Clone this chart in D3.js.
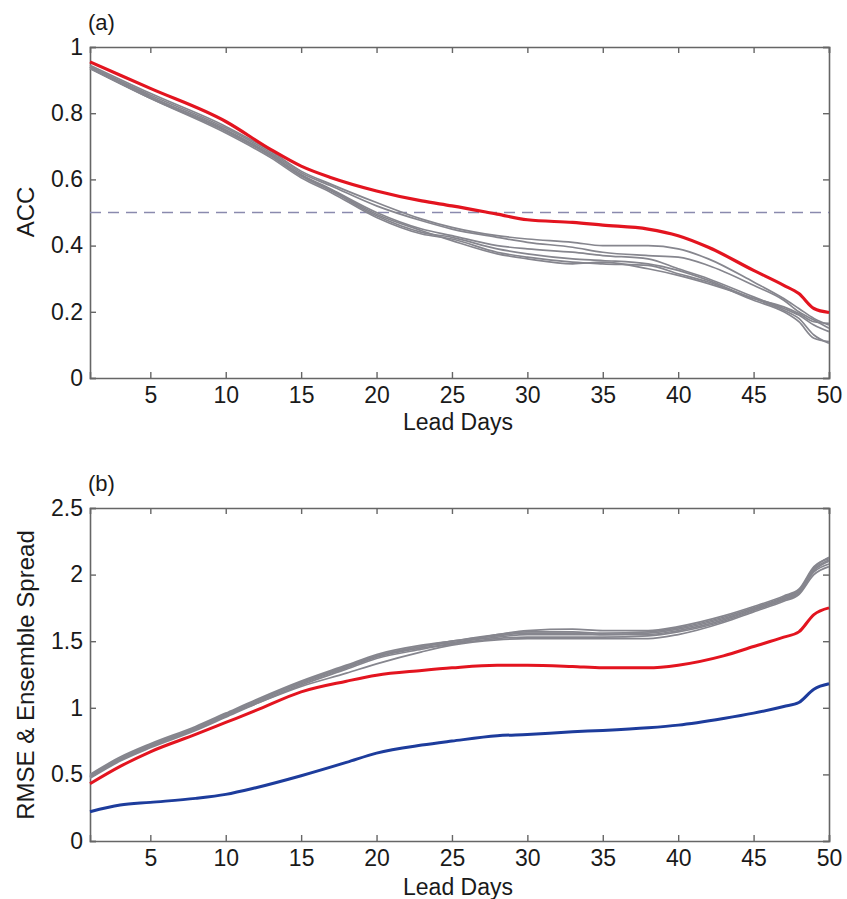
<!DOCTYPE html>
<html>
<head>
<meta charset="utf-8">
<script src="https://cdn.jsdelivr.net/npm/d3@7"></script>
<style>
  body { margin: 0; background: #fff; }
  svg { font-family: "Liberation Sans", Arial, sans-serif; }
</style>
</head>
<body>
<svg width="847" height="899"></svg>
<script>
// panel (a) ACC
var daysA = [1, 5, 10, 13, 15, 17, 20, 23, 25, 28, 30, 33, 35, 38, 40, 42, 45, 47, 48, 49, 50];
var accMean = [0.955, 0.875, 0.775, 0.69, 0.64, 0.605, 0.565, 0.535, 0.52, 0.495, 0.478, 0.47, 0.462, 0.45, 0.43, 0.395, 0.325, 0.28, 0.255, 0.21, 0.198];
var accMembers = [
    [0.945, 0.86, 0.76, 0.685, 0.625, 0.585, 0.53, 0.48, 0.455, 0.43, 0.42, 0.41, 0.40, 0.40, 0.39, 0.36, 0.29, 0.24, 0.21, 0.18, 0.16],
    [0.94, 0.855, 0.755, 0.68, 0.62, 0.58, 0.52, 0.475, 0.45, 0.425, 0.41, 0.395, 0.38, 0.37, 0.365, 0.34, 0.28, 0.235, 0.2, 0.175, 0.15],
    [0.94, 0.85, 0.75, 0.675, 0.615, 0.57, 0.50, 0.45, 0.43, 0.40, 0.39, 0.38, 0.37, 0.36, 0.33, 0.30, 0.245, 0.21, 0.19, 0.16, 0.14],
    [0.935, 0.845, 0.745, 0.67, 0.61, 0.565, 0.49, 0.44, 0.425, 0.39, 0.375, 0.36, 0.355, 0.345, 0.325, 0.295, 0.24, 0.215, 0.195, 0.17, 0.165],
    [0.935, 0.845, 0.74, 0.665, 0.605, 0.56, 0.485, 0.435, 0.42, 0.38, 0.365, 0.35, 0.345, 0.34, 0.315, 0.29, 0.235, 0.2, 0.17, 0.12, 0.11],
    [0.94, 0.85, 0.748, 0.672, 0.612, 0.568, 0.495, 0.445, 0.415, 0.375, 0.36, 0.345, 0.35, 0.33, 0.31, 0.285, 0.24, 0.205, 0.18, 0.13, 0.105]
];
var accRef = 0.5;

// panel (b) RMSE & spread
var daysB = [1, 3, 5, 8, 10, 12, 15, 18, 20, 23, 25, 28, 30, 33, 35, 38, 40, 43, 45, 47, 48, 49, 50];
var rmseMean = [0.43, 0.56, 0.67, 0.80, 0.89, 0.98, 1.12, 1.20, 1.245, 1.28, 1.30, 1.32, 1.32, 1.31, 1.30, 1.30, 1.32, 1.39, 1.46, 1.53, 1.57, 1.70, 1.75];
var spread = [0.22, 0.27, 0.29, 0.32, 0.35, 0.40, 0.49, 0.59, 0.66, 0.72, 0.75, 0.79, 0.80, 0.82, 0.83, 0.85, 0.87, 0.92, 0.96, 1.01, 1.04, 1.14, 1.18];
var rmseMembers = [
    [0.50, 0.63, 0.73, 0.86, 0.96, 1.06, 1.20, 1.32, 1.40, 1.47, 1.50, 1.55, 1.57, 1.57, 1.56, 1.57, 1.60, 1.68, 1.75, 1.83, 1.88, 2.05, 2.13],
    [0.49, 0.62, 0.72, 0.85, 0.95, 1.05, 1.19, 1.31, 1.39, 1.46, 1.49, 1.53, 1.55, 1.55, 1.55, 1.56, 1.59, 1.67, 1.74, 1.82, 1.87, 2.03, 2.10],
    [0.48, 0.61, 0.71, 0.84, 0.94, 1.04, 1.18, 1.30, 1.38, 1.45, 1.48, 1.52, 1.53, 1.53, 1.53, 1.54, 1.57, 1.65, 1.73, 1.81, 1.86, 2.02, 2.08],
    [0.47, 0.60, 0.70, 0.83, 0.93, 1.03, 1.17, 1.29, 1.37, 1.44, 1.48, 1.55, 1.58, 1.59, 1.58, 1.58, 1.61, 1.69, 1.76, 1.84, 1.89, 2.06, 2.12],
    [0.48, 0.61, 0.71, 0.84, 0.94, 1.03, 1.16, 1.26, 1.33, 1.42, 1.47, 1.51, 1.52, 1.52, 1.52, 1.52, 1.55, 1.64, 1.72, 1.80, 1.85, 2.00, 2.06],
    [0.49, 0.62, 0.72, 0.85, 0.95, 1.05, 1.19, 1.31, 1.39, 1.46, 1.50, 1.54, 1.56, 1.56, 1.55, 1.55, 1.58, 1.66, 1.74, 1.82, 1.87, 2.04, 2.11]
];

var xTicks = [5, 10, 15, 20, 25, 30, 35, 40, 45, 50];
var accTicks = [0, 0.2, 0.4, 0.6, 0.8, 1];
var rmseTicks = [0, 0.5, 1, 1.5, 2, 2.5];

var svg = d3.select('svg');
var left = 90, right = 829;
var axisColor = '#666';
var textColor = '#1a1a1a';

var x = d3.scaleLinear().domain([1, 50]).range([left, right]);

function panel(top, bottom, yDomain, yTicks, label, yTitle, yTitleY, xTitleY) {
    var y = d3.scaleLinear().domain(yDomain).range([bottom, top]);
    var g = svg.append('g');

    var bottomAxis = d3.axisBottom(x).tickValues(xTicks).tickSize(-6).tickPadding(9).tickFormat(d3.format('d'));
    var topAxis = d3.axisTop(x).tickValues(xTicks).tickSize(-6).tickFormat('');
    var leftAxis = d3.axisLeft(y).tickValues(yTicks).tickSize(-6).tickPadding(7).tickFormat(d => String(d));
    var rightAxis = d3.axisRight(y).tickValues(yTicks).tickSize(-6).tickFormat('');

    [
        [bottomAxis, 'translate(0,' + bottom + ')'],
        [topAxis, 'translate(0,' + top + ')'],
        [leftAxis, 'translate(' + left + ',0)'],
        [rightAxis, 'translate(' + right + ',0)']
    ].forEach(a => {
        var ax = g.append('g').attr('transform', a[1]).call(a[0]);
        ax.select('.domain').attr('stroke', axisColor).attr('stroke-width', 1.6);
        ax.selectAll('.tick line').attr('stroke', axisColor).attr('stroke-width', 1.4);
        ax.selectAll('.tick text').attr('fill', textColor).style('font-size', '23px');
    });

    g.append('text')
        .attr('x', 88).attr('y', top - 17)
        .style('font-size', '22px').attr('fill', textColor)
        .text(label);

    g.append('text')
        .attr('transform', 'translate(26,' + yTitleY + ') rotate(-90)')
        .attr('text-anchor', 'middle')
        .attr('dy', '0.35em')
        .style('font-size', '24px').attr('fill', textColor)
        .text(yTitle);

    g.append('text')
        .attr('x', 458).attr('y', xTitleY)
        .attr('text-anchor', 'middle')
        .style('font-size', '23px').attr('fill', textColor)
        .text('Lead Days');

    return { g: g, y: y };
}

function drawLine(p, days, values, color, width) {
    var line = d3.line()
        .x((d, i) => x(days[i]))
        .y(d => p.y(d))
        .curve(d3.curveMonotoneX);
    p.g.append('path')
        .attr('d', line(values))
        .attr('fill', 'none')
        .attr('stroke', color)
        .attr('stroke-width', width)
        .attr('stroke-linejoin', 'round');
}

var pa = panel(47, 378, [0, 1], accTicks, '(a)', 'ACC', 212, 430);
pa.g.append('line')
    .attr('x1', x(1)).attr('x2', x(50))
    .attr('y1', pa.y(accRef)).attr('y2', pa.y(accRef))
    .attr('stroke', '#8a8aae').attr('stroke-width', 1.6)
    .attr('stroke-dasharray', '11,7');
accMembers.forEach(s => drawLine(pa, daysA, s, '#86868e', 1.7));
drawLine(pa, daysA, accMean, '#e3141f', 3.2);

var pb = panel(508, 841, [0, 2.5], rmseTicks, '(b)', 'RMSE & Ensemble Spread', 675, 895);
rmseMembers.forEach(s => drawLine(pb, daysB, s, '#86868e', 1.7));
drawLine(pb, daysB, rmseMean, '#e3141f', 3);
drawLine(pb, daysB, spread, '#1d3c9c', 3);
</script>
</body>
</html>
